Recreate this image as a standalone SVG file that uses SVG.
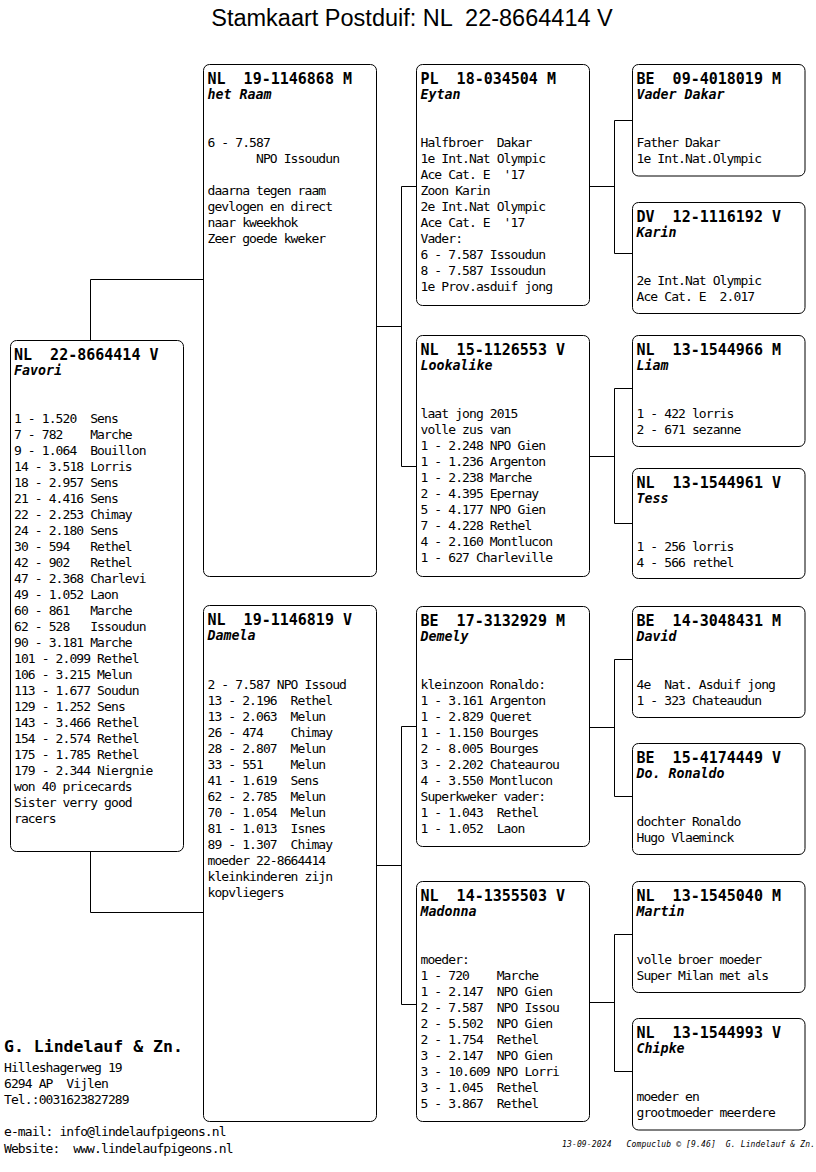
<svg xmlns="http://www.w3.org/2000/svg" width="816" height="1172" viewBox="0 0 816 1172">
<style>
.box{fill:#fff;stroke:#000;stroke-width:1}
.con{fill:none;stroke:#000;stroke-width:1}
text{white-space:pre}
.hd{font-family:"DejaVu Sans Mono",monospace;font-weight:bold;font-size:15px;fill:#000}
.nm{font-family:"DejaVu Sans Mono",monospace;font-weight:bold;font-style:italic;font-size:13.3px;fill:#000}
.bd{font-family:"DejaVu Sans Mono",monospace;font-size:13px;letter-spacing:-0.9px;fill:#000}
.ti{font-family:"Liberation Sans",Arial,sans-serif;font-size:23.5px;fill:#000}
.co{font-family:"DejaVu Sans Mono",monospace;font-weight:bold;font-size:16.5px;fill:#000}
.ft{font-family:"DejaVu Sans Mono",monospace;font-style:italic;font-size:8px;fill:#000}
</style>
<rect width="816" height="1172" fill="#fff"/>
<text class="ti" x="412" y="26" text-anchor="middle" xml:space="preserve">Stamkaart Postduif: NL  22-8664414 V</text>

<g id="connectors">
<path class="con" d="M90.5,340 V279.5 H203.5 M90.5,852 V912.5 H203.5"/>
<path class="con" d="M376.5,326.5 H401.5 M401.5,186.5 V466.5 M401.5,186.5 H416.5 M401.5,466.5 H416.5"/>
<path class="con" d="M376.5,865.5 H401.5 M401.5,726.5 V1004.5 M401.5,726.5 H416.5 M401.5,1004.5 H416.5"/>
<path class="con" d="M589.5,186.5 H614.5 M614.5,120.5 V253.5 M614.5,120.5 H632.5 M614.5,253.5 H632.5"/>
<path class="con" d="M589.5,456.5 H614.5 M614.5,388.5 V523.5 M614.5,388.5 H632.5 M614.5,523.5 H632.5"/>
<path class="con" d="M589.5,727.5 H614.5 M614.5,659.5 V796.5 M614.5,659.5 H632.5 M614.5,796.5 H632.5"/>
<path class="con" d="M589.5,1002.5 H614.5 M614.5,934.5 V1071.5 M614.5,934.5 H632.5 M614.5,1071.5 H632.5"/>
</g>

<g id="favori">
<rect class="box" x="10.5" y="340.5" width="173" height="511" rx="6"/>
<text class="hd" x="14" y="359.5" xml:space="preserve">NL  22-8664414 V</text>
<text class="nm" x="14" y="374.5">Favori</text>
<text class="bd" xml:space="preserve"><tspan x="14" y="423">1 - 1.520  Sens</tspan><tspan x="14" y="439">7 - 782    Marche</tspan><tspan x="14" y="455">9 - 1.064  Bouillon</tspan><tspan x="14" y="471">14 - 3.518 Lorris</tspan><tspan x="14" y="487">18 - 2.957 Sens</tspan><tspan x="14" y="503">21 - 4.416 Sens</tspan><tspan x="14" y="519">22 - 2.253 Chimay</tspan><tspan x="14" y="535">24 - 2.180 Sens</tspan><tspan x="14" y="551">30 - 594   Rethel</tspan><tspan x="14" y="567">42 - 902   Rethel</tspan><tspan x="14" y="583">47 - 2.368 Charlevi</tspan><tspan x="14" y="599">49 - 1.052 Laon</tspan><tspan x="14" y="615">60 - 861   Marche</tspan><tspan x="14" y="631">62 - 528   Issoudun</tspan><tspan x="14" y="647">90 - 3.181 Marche</tspan><tspan x="14" y="663">101 - 2.099 Rethel</tspan><tspan x="14" y="679">106 - 3.215 Melun</tspan><tspan x="14" y="695">113 - 1.677 Soudun</tspan><tspan x="14" y="711">129 - 1.252 Sens</tspan><tspan x="14" y="727">143 - 3.466 Rethel</tspan><tspan x="14" y="743">154 - 2.574 Rethel</tspan><tspan x="14" y="759">175 - 1.785 Rethel</tspan><tspan x="14" y="775">179 - 2.344 Niergnie</tspan><tspan x="14" y="791">won 40 pricecards</tspan><tspan x="14" y="807">Sister verry good</tspan><tspan x="14" y="823">racers</tspan></text>
</g>

<g id="het-raam">
<rect class="box" x="203.5" y="64.5" width="173" height="512" rx="6"/>
<text class="hd" x="207.5" y="84" xml:space="preserve">NL  19-1146868 M</text>
<text class="nm" x="207.5" y="99">het Raam</text>
<text class="bd" xml:space="preserve"><tspan x="207.5" y="147">6 - 7.587</tspan><tspan x="207.5" y="163">       NPO Issoudun</tspan><tspan x="207.5" y="195">daarna tegen raam</tspan><tspan x="207.5" y="211">gevlogen en direct</tspan><tspan x="207.5" y="227">naar kweekhok</tspan><tspan x="207.5" y="243">Zeer goede kweker</tspan></text>
</g>

<g id="damela">
<rect class="box" x="203.5" y="605.5" width="173" height="516" rx="6"/>
<text class="hd" x="207.5" y="625" xml:space="preserve">NL  19-1146819 V</text>
<text class="nm" x="207.5" y="640">Damela</text>
<text class="bd" xml:space="preserve"><tspan x="207.5" y="689">2 - 7.587 NPO Issoud</tspan><tspan x="207.5" y="705">13 - 2.196  Rethel</tspan><tspan x="207.5" y="721">13 - 2.063  Melun</tspan><tspan x="207.5" y="737">26 - 474    Chimay</tspan><tspan x="207.5" y="753">28 - 2.807  Melun</tspan><tspan x="207.5" y="769">33 - 551    Melun</tspan><tspan x="207.5" y="785">41 - 1.619  Sens</tspan><tspan x="207.5" y="801">62 - 2.785  Melun</tspan><tspan x="207.5" y="817">70 - 1.054  Melun</tspan><tspan x="207.5" y="833">81 - 1.013  Isnes</tspan><tspan x="207.5" y="849">89 - 1.307  Chimay</tspan><tspan x="207.5" y="865">moeder 22-8664414</tspan><tspan x="207.5" y="881">kleinkinderen zijn</tspan><tspan x="207.5" y="897">kopvliegers</tspan></text>
</g>

<g id="eytan">
<rect class="box" x="416.5" y="64.5" width="173" height="241" rx="6"/>
<text class="hd" x="420.5" y="84" xml:space="preserve">PL  18-034504 M</text>
<text class="nm" x="420.5" y="99">Eytan</text>
<text class="bd" xml:space="preserve"><tspan x="420.5" y="147">Halfbroer  Dakar</tspan><tspan x="420.5" y="163">1e Int.Nat Olympic</tspan><tspan x="420.5" y="179">Ace Cat. E  '17</tspan><tspan x="420.5" y="195">Zoon Karin</tspan><tspan x="420.5" y="211">2e Int.Nat Olympic</tspan><tspan x="420.5" y="227">Ace Cat. E  '17</tspan><tspan x="420.5" y="243">Vader:</tspan><tspan x="420.5" y="259">6 - 7.587 Issoudun</tspan><tspan x="420.5" y="275">8 - 7.587 Issoudun</tspan><tspan x="420.5" y="291">1e Prov.asduif jong</tspan></text>
</g>

<g id="lookalike">
<rect class="box" x="416.5" y="335.5" width="173" height="241" rx="6"/>
<text class="hd" x="420.5" y="355" xml:space="preserve">NL  15-1126553 V</text>
<text class="nm" x="420.5" y="370">Lookalike</text>
<text class="bd" xml:space="preserve"><tspan x="420.5" y="418">laat jong 2015</tspan><tspan x="420.5" y="434">volle zus van</tspan><tspan x="420.5" y="450">1 - 2.248 NPO Gien</tspan><tspan x="420.5" y="466">1 - 1.236 Argenton</tspan><tspan x="420.5" y="482">1 - 2.238 Marche</tspan><tspan x="420.5" y="498">2 - 4.395 Epernay</tspan><tspan x="420.5" y="514">5 - 4.177 NPO Gien</tspan><tspan x="420.5" y="530">7 - 4.228 Rethel</tspan><tspan x="420.5" y="546">4 - 2.160 Montlucon</tspan><tspan x="420.5" y="562">1 - 627 Charleville</tspan></text>
</g>

<g id="demely">
<rect class="box" x="416.5" y="606.5" width="173" height="240" rx="6"/>
<text class="hd" x="420.5" y="626" xml:space="preserve">BE  17-3132929 M</text>
<text class="nm" x="420.5" y="641">Demely</text>
<text class="bd" xml:space="preserve"><tspan x="420.5" y="689">kleinzoon Ronaldo:</tspan><tspan x="420.5" y="705">1 - 3.161 Argenton</tspan><tspan x="420.5" y="721">1 - 2.829 Queret</tspan><tspan x="420.5" y="737">1 - 1.150 Bourges</tspan><tspan x="420.5" y="753">2 - 8.005 Bourges</tspan><tspan x="420.5" y="769">3 - 2.202 Chateaurou</tspan><tspan x="420.5" y="785">4 - 3.550 Montlucon</tspan><tspan x="420.5" y="801">Superkweker vader:</tspan><tspan x="420.5" y="817">1 - 1.043  Rethel</tspan><tspan x="420.5" y="833">1 - 1.052  Laon</tspan></text>
</g>

<g id="madonna">
<rect class="box" x="416.5" y="881.5" width="173" height="240" rx="6"/>
<text class="hd" x="420.5" y="901" xml:space="preserve">NL  14-1355503 V</text>
<text class="nm" x="420.5" y="916">Madonna</text>
<text class="bd" xml:space="preserve"><tspan x="420.5" y="964">moeder:</tspan><tspan x="420.5" y="980">1 - 720    Marche</tspan><tspan x="420.5" y="996">1 - 2.147  NPO Gien</tspan><tspan x="420.5" y="1012">2 - 7.587  NPO Issou</tspan><tspan x="420.5" y="1028">2 - 5.502  NPO Gien</tspan><tspan x="420.5" y="1044">2 - 1.754  Rethel</tspan><tspan x="420.5" y="1060">3 - 2.147  NPO Gien</tspan><tspan x="420.5" y="1076">3 - 10.609 NPO Lorri</tspan><tspan x="420.5" y="1092">3 - 1.045  Rethel</tspan><tspan x="420.5" y="1108">5 - 3.867  Rethel</tspan></text>
</g>

<g id="vader-dakar">
<rect class="box" x="632.5" y="64.5" width="172.5" height="111.5" rx="6"/>
<text class="hd" x="636.5" y="84" xml:space="preserve">BE  09-4018019 M</text>
<text class="nm" x="636.5" y="99">Vader Dakar</text>
<text class="bd"><tspan x="636.5" y="147">Father Dakar</tspan><tspan x="636.5" y="163">1e Int.Nat.Olympic</tspan></text>
</g>

<g id="karin">
<rect class="box" x="632.5" y="202.5" width="172.5" height="111" rx="6"/>
<text class="hd" x="636.5" y="222" xml:space="preserve">DV  12-1116192 V</text>
<text class="nm" x="636.5" y="237">Karin</text>
<text class="bd" xml:space="preserve"><tspan x="636.5" y="285">2e Int.Nat Olympic</tspan><tspan x="636.5" y="301">Ace Cat. E  2.017</tspan></text>
</g>

<g id="liam">
<rect class="box" x="632.5" y="335.5" width="172.5" height="111" rx="6"/>
<text class="hd" x="636.5" y="355" xml:space="preserve">NL  13-1544966 M</text>
<text class="nm" x="636.5" y="370">Liam</text>
<text class="bd"><tspan x="636.5" y="418">1 - 422 lorris</tspan><tspan x="636.5" y="434">2 - 671 sezanne</tspan></text>
</g>

<g id="tess">
<rect class="box" x="632.5" y="468.5" width="172.5" height="110" rx="6"/>
<text class="hd" x="636.5" y="488" xml:space="preserve">NL  13-1544961 V</text>
<text class="nm" x="636.5" y="503">Tess</text>
<text class="bd"><tspan x="636.5" y="551">1 - 256 lorris</tspan><tspan x="636.5" y="567">4 - 566 rethel</tspan></text>
</g>

<g id="david">
<rect class="box" x="632.5" y="606.5" width="172.5" height="111" rx="6"/>
<text class="hd" x="636.5" y="626" xml:space="preserve">BE  14-3048431 M</text>
<text class="nm" x="636.5" y="641">David</text>
<text class="bd" xml:space="preserve"><tspan x="636.5" y="689">4e  Nat. Asduif jong</tspan><tspan x="636.5" y="705">1 - 323 Chateaudun</tspan></text>
</g>

<g id="do-ronaldo">
<rect class="box" x="632.5" y="743.5" width="172.5" height="111" rx="6"/>
<text class="hd" x="636.5" y="763" xml:space="preserve">BE  15-4174449 V</text>
<text class="nm" x="636.5" y="778">Do. Ronaldo</text>
<text class="bd"><tspan x="636.5" y="826">dochter Ronaldo</tspan><tspan x="636.5" y="842">Hugo Vlaeminck</tspan></text>
</g>

<g id="martin">
<rect class="box" x="632.5" y="881.5" width="172.5" height="111" rx="6"/>
<text class="hd" x="636.5" y="901" xml:space="preserve">NL  13-1545040 M</text>
<text class="nm" x="636.5" y="916">Martin</text>
<text class="bd"><tspan x="636.5" y="964">volle broer moeder</tspan><tspan x="636.5" y="980">Super Milan met als</tspan></text>
</g>

<g id="chipke">
<rect class="box" x="632.5" y="1018.5" width="172.5" height="111.5" rx="6"/>
<text class="hd" x="636.5" y="1038" xml:space="preserve">NL  13-1544993 V</text>
<text class="nm" x="636.5" y="1053">Chipke</text>
<text class="bd"><tspan x="636.5" y="1101">moeder en</tspan><tspan x="636.5" y="1117">grootmoeder meerdere</tspan></text>
</g>

<g id="footer">
<text class="co" x="4" y="1052">G. Lindelauf &amp; Zn.</text>
<text class="bd" xml:space="preserve"><tspan x="4" y="1072">Hilleshagerweg 19</tspan><tspan x="4" y="1088">6294 AP  Vijlen</tspan><tspan x="4" y="1104">Tel.:0031623827289</tspan><tspan x="4" y="1136">e-mail: info@lindelaufpigeons.nl</tspan><tspan x="4" y="1153">Website:  www.lindelaufpigeons.nl</tspan></text>
<text class="ft" x="562" y="1147" textLength="253" lengthAdjust="spacing" xml:space="preserve">13-09-2024   Compuclub © [9.46]  G. Lindelauf &amp; Zn.</text>
</g>
</svg>
